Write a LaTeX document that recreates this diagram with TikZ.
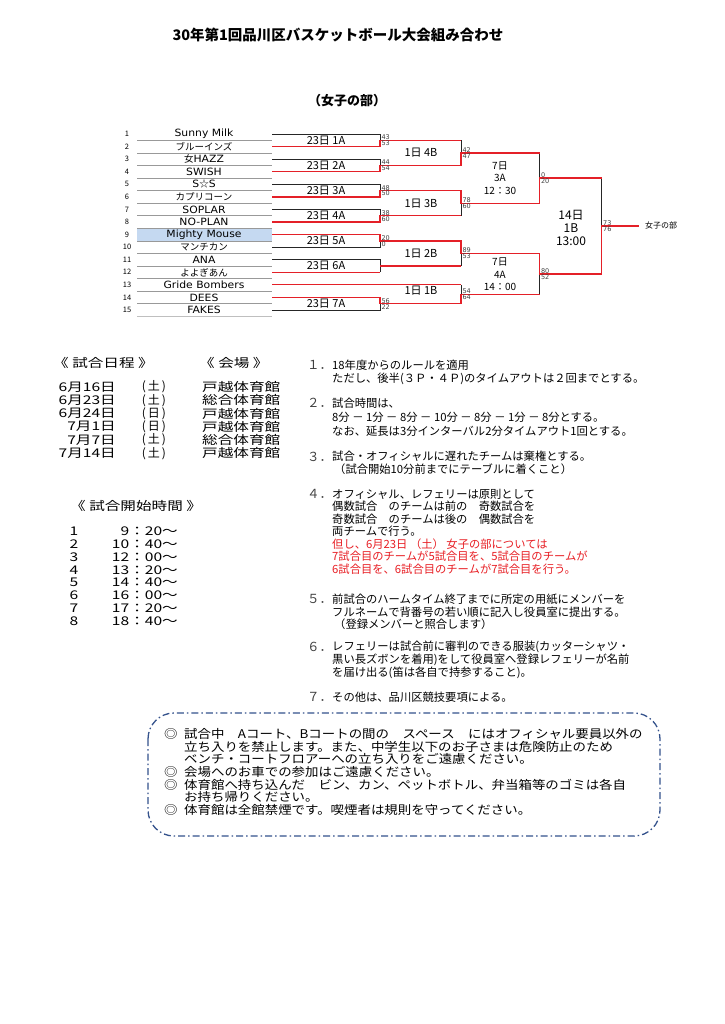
\documentclass[tikz,border=0pt]{standalone}
\usepackage{fontspec}
\setmainfont{Noto Sans CJK JP}
\newfontfamily\teamfont[FakeStretch=1.08]{DejaVu Sans}
\newfontfamily\scfont{DejaVu Sans}
\newfontfamily\jpwide[FakeStretch=1.3]{Noto Sans CJK JP}
\newfontfamily\jpbox[FakeStretch=1.12]{Noto Sans CJK JP}
\definecolor{bred}{RGB}{228,32,40}
\definecolor{tred}{RGB}{232,30,36}
\definecolor{hlblue}{RGB}{197,217,241}
\definecolor{boxblue}{RGB}{52,82,140}
\newcommand\tmfnt{\teamfont\fontsize{10}{11}\selectfont}
\newcommand\jnfnt{\fontsize{9.5}{10}\selectfont}
\begin{document}
\begin{tikzpicture}[x=1pt,y=-1pt,
  redl/.style={draw=bred,line width=1.3pt},
  blkl/.style={draw=black!85,line width=0.6pt},
  sepl/.style={draw=black!40,line width=0.5pt},
  sct/.style={font=\scfont\fontsize{6.5}{7}\selectfont,text=black!75,inner sep=0.3pt},
  rlbl/.style={font=\fontsize{11}{12}\selectfont,inner sep=0},
  r3lbl/.style={font=\fontsize{10}{12.5}\selectfont,inner sep=0,align=center},
  numl/.style={font=\fontsize{7.5}{8}\selectfont,inner sep=0},
  team/.style={inner sep=0},
  rt/.style={anchor=west,inner sep=0,font=\fontsize{11.3}{12}\selectfont},
  rtred/.style={rt,text=tred},
  rn/.style={anchor=west,inner sep=0,font=\fontsize{12.5}{13}\selectfont,text=black!75},
  sch/.style={inner sep=0,font=\jpwide\fontsize{12}{13}\selectfont},
  bxt/.style={anchor=west,inner sep=0,font=\jpbox\fontsize{12}{13}\selectfont},
  noticebox/.style={draw=boxblue,line width=1.3pt,rounded corners=26pt,
     dash pattern=on 7pt off 3pt on 1.5pt off 3pt}
]
\useasboundingbox (0,0) rectangle (724,1024);
\fill[white] (0,0) rectangle (724,1024);

% titles
\node[font=\fontsize{14.5}{16}\selectfont\bfseries,inner sep=0] (title) at (338,35) {30年第1回品川区バスケットボール大会組み合わせ};
\node[font=\fontsize{13}{15}\selectfont\bfseries,inner sep=0] (sub) at (347,101) {（女子の部）};

% team table
\fill[hlblue] (137,228.3) rectangle (272,240.9);
\foreach \i/\nm in {1/{\tmfnt Sunny Milk},2/{\jnfnt ブルーインズ},3/{{\jnfnt 女}{\tmfnt HAZZ}},4/{\tmfnt SWISH},
  5/{{\tmfnt S}{\jnfnt ☆}{\tmfnt S}},6/{\jnfnt カプリコーン},7/{\tmfnt SOPLAR},8/{\tmfnt NO-PLAN},
  9/{\tmfnt Mighty Mouse},10/{\jnfnt マンチカン},11/{\tmfnt ANA},12/{\jnfnt よよぎあん},
  13/{\tmfnt Gride Bombers},14/{\tmfnt DEES},15/{\tmfnt FAKES}}{
  \pgfmathsetmacro\yy{134+12.57*(\i-1)}
  \node[team] (team\i) at (204,\yy) {\nm};
  \node[numl] (num\i) at (127,\yy) {\i};
}
\foreach \i in {1,...,14}{
  \pgfmathsetmacro\yy{140.3+12.57*(\i-1)}
  \draw[sepl] (137,\yy) -- (272,\yy);
}
\draw[draw=black!25,line width=1.2pt] (137,316.5) -- (272,316.5);

% black (loser) parts
\draw[blkl] (272,134) -- (380,134) -- (380,140.3);
\draw[blkl] (272,159.1) -- (380,159.1) -- (380,165.4);
\draw[blkl] (272,184.3) -- (380,184.3) -- (380,190.6);
\draw[blkl] (272,209.4) -- (380,209.4) -- (380,215.7);
\draw[blkl] (272,247.1) -- (380,247.1) -- (380,240.9);
\draw[blkl] (272,259.7) -- (380,259.7) -- (380,272.3);
\draw[blkl] (272,310) -- (380,310) -- (380,303.7);
\draw[blkl] (461,140.3) -- (461,152.9);
\draw[blkl] (461,215.7) -- (461,203.2);
\draw[blkl] (461,266) -- (461,253.4);
\draw[blkl] (461,284.8) -- (461,294.3);
\draw[blkl] (539.5,152.9) -- (539.5,178);
\draw[blkl] (539.5,294.3) -- (539.5,273.9);
\draw[blkl] (601.7,178) -- (601.7,225.9);

% red (winner) paths
\draw[redl] (272,146.6) -- (380,146.6) -- (380,140.3) -- (461,140.3);
\draw[redl] (272,171.7) -- (380,171.7) -- (380,165.4) -- (461,165.4) -- (461,152.9) -- (539.5,152.9);
\draw[redl] (272,196.9) -- (380,196.9) -- (380,190.6) -- (461,190.6) -- (461,203.2) -- (539.5,203.2) -- (539.5,178) -- (601.7,178);
\draw[redl] (272,222) -- (380,222) -- (380,215.7) -- (461,215.7);
\draw[redl] (272,234.6) -- (380,234.6) -- (380,240.9) -- (461,240.9) -- (461,253.4) -- (539.5,253.4) -- (539.5,273.9) -- (601.7,273.9) -- (601.7,225.9) -- (639,225.9);
\draw[redl] (272,272.3) -- (380,272.3);
\draw[redl] (380,266) -- (461,266);
\draw[redl] (272,284.8) -- (461,284.8);
\draw[redl] (272,297.4) -- (380,297.4) -- (380,303.7) -- (461,303.7) -- (461,294.3) -- (539.5,294.3);

% match labels
\node[rlbl] (m1a) at (326,140.3) {23日 1A};
\node[rlbl] (m2a) at (326,165.4) {23日 2A};
\node[rlbl] (m3a) at (326,190.6) {23日 3A};
\node[rlbl] (m4a) at (326,215.7) {23日 4A};
\node[rlbl] (m5a) at (326,240.9) {23日 5A};
\node[rlbl] (m6a) at (326,266) {23日 6A};
\node[rlbl] (m7a) at (326,303.7) {23日 7A};
\node[rlbl] (m4b) at (421,152.9) {1日 4B};
\node[rlbl] (m3b) at (421,203.2) {1日 3B};
\node[rlbl] (m2b) at (421,253.4) {1日 2B};
\node[rlbl] (m1b) at (421,291) {1日 1B};
\node[r3lbl] (r3a) at (500,178) {7日\\3A\\12：30};
\node[r3lbl] (r4a) at (500,274.5) {7日\\4A\\14：00};
\node[font=\fontsize{12}{12.7}\selectfont,inner sep=0,align=center] (fin) at (571,228) {14日\\1B\\13:00};
\node[font=\fontsize{8}{9}\selectfont,inner sep=0,anchor=west] (champ) at (645,225.9) {女子の部};

% scores
\newcommand\scores[4]{\node[sct,anchor=south west] (#1t) at (#2) {#3};\node[sct,anchor=north west] (#1b) at (#2) {#4};}
\scores{s1a}{381,140.3}{43}{53}
\scores{s2a}{381,165.4}{44}{54}
\scores{s3a}{381,190.6}{48}{50}
\scores{s4a}{381,215.7}{38}{60}
\scores{s5a}{381,240.9}{20}{0}
\scores{s7a}{381,303.7}{56}{22}
\scores{s4b}{462,152.9}{42}{47}
\scores{s3b}{462,203.2}{78}{60}
\scores{s2b}{462,253.4}{89}{53}
\scores{s1b}{462,294.3}{54}{64}
\scores{s3r}{540.5,178}{0}{20}
\scores{s4r}{540.5,273.9}{80}{52}
\scores{sfn}{602.7,225.9}{73}{76}

% schedule
\node[sch,anchor=west] (h1) at (53,363) {《 試合日程 》};
\node[sch,anchor=west] (h2) at (199,363) {《 会場 》};
\foreach \k/\d/\w/\v in {0/6月16日/土/戸越体育館,1/6月23日/土/総合体育館,2/6月24日/日/戸越体育館,
   3/7月1日/日/戸越体育館,4/7月7日/土/総合体育館,5/7月14日/土/戸越体育館}{
  \pgfmathsetmacro\yy{387+13.25*\k}
  \node[sch,anchor=east] (d\k) at (116,\yy) {\d};
  \node[inner sep=0,font=\fontsize{12}{13}\selectfont] (w\k) at (154,\yy) {(\,\w\,)};
  \node[sch,anchor=west] (v\k) at (202,\yy) {\v};
}
\node[sch,anchor=west] (h3) at (70,506) {《 試合開始時間 》};
\foreach \k/\t in {1/9：20～,2/10：40～,3/12：00～,4/13：20～,5/14：40～,6/16：00～,7/17：20～,8/18：40～}{
  \pgfmathsetmacro\yy{531.7+12.75*(\k-1)}
  \node[sch] (n\k) at (74,\yy) {\k};
  \node[sch,anchor=east] (t\k) at (178,\yy) {\t};
}

% rules
\node[rn] (i1) at (307,365) {１．};
\node[rt] (l11) at (332,365) {18年度からのルールを適用};
\node[rt] (l12) at (332,378.5) {ただし、後半(３Ｐ・４Ｐ)のタイムアウトは２回までとする。};
\node[rn] (i2) at (307,403) {２．};
\node[rt] (l21) at (332,403) {試合時間は、};
\node[rt] (l22) at (332,417) {8分 － 1分 － 8分 － 10分 － 8分 － 1分 － 8分とする。};
\node[rt] (l23) at (332,431) {なお、延長は3分インターバル2分タイムアウト1回とする。};
\node[rn] (i3) at (307,456.5) {３．};
\node[rt] (l31) at (332,456.5) {試合・オフィシャルに遅れたチームは棄権とする。};
\node[rt] (l32) at (334,469.5) {（試合開始10分前までにテーブルに着くこと）};
\node[rn] (i4) at (307,494) {４．};
\node[rt] (l41) at (332,494) {オフィシャル、レフェリーは原則として};
\node[rt] (l42) at (332,506.5) {偶数試合　のチームは前の　奇数試合を};
\node[rt] (l43) at (332,519) {奇数試合　のチームは後の　偶数試合を};
\node[rt] (l44) at (332,531.5) {両チームで行う。};
\node[rtred] (l45) at (332,544) {但し、6月23日 （土） 女子の部については};
\node[rtred] (l46) at (332,556.5) {7試合目のチームが5試合目を、5試合目のチームが};
\node[rtred] (l47) at (332,569) {6試合目を、6試合目のチームが7試合目を行う。};
\node[rn] (i5) at (307,599) {５．};
\node[rt] (l51) at (332,599) {前試合のハームタイム終了までに所定の用紙にメンバーを};
\node[rt] (l52) at (332,612) {フルネームで背番号の若い順に記入し役員室に提出する。};
\node[rt] (l53) at (334,624.5) {（登録メンバーと照合します）};
\node[rn] (i6) at (307,647) {６．};
\node[rt] (l61) at (332,647) {レフェリーは試合前に審判のできる服装(カッターシャツ・};
\node[rt] (l62) at (332,660) {黒い長ズボンを着用)をして役員室へ登録レフェリーが名前};
\node[rt] (l63) at (332,672.5) {を届け出る(笛は各自で持参すること)。};
\node[rn] (i7) at (307,697) {７．};
\node[rt] (l71) at (332,697) {その他は、品川区競技要項による。};

% notice box
\draw[noticebox] (148,713) rectangle (660,836);
\node[bxt] (b1m) at (164,734) {◎};
\node[bxt] (b1) at (184,734) {試合中　Aコート、Bコートの間の　スペース　にはオフィシャル要員以外の};
\node[bxt] (b2) at (184,746.7) {立ち入りを禁止します。また、中学生以下のお子さまは危険防止のため};
\node[bxt] (b3) at (184,759.3) {ベンチ・コートフロアーへの立ち入りをご遠慮ください。};
\node[bxt] (b4m) at (164,772) {◎};
\node[bxt] (b4) at (184,772) {会場へのお車での参加はご遠慮ください。};
\node[bxt] (b5m) at (164,784.7) {◎};
\node[bxt] (b5) at (184,784.7) {体育館へ持ち込んだ　ビン、カン、ペットボトル、弁当箱等のゴミは各自};
\node[bxt] (b6) at (184,797.3) {お持ち帰りください。};
\node[bxt] (b7m) at (164,810) {◎};
\node[bxt] (b7) at (184,810) {体育館は全館禁煙です。喫煙者は規則を守ってください。};
\end{tikzpicture}
\end{document}
